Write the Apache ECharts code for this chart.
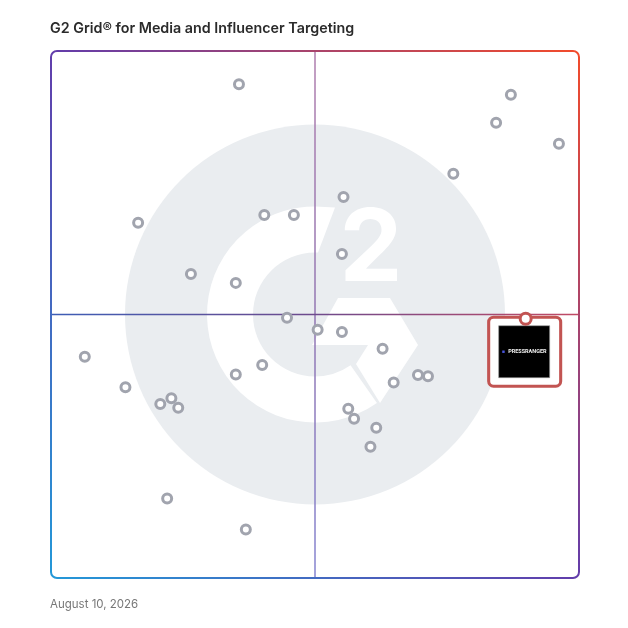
<!DOCTYPE html>
<html><head><meta charset="utf-8">
<script src="https://cdn.jsdelivr.net/npm/echarts@6/dist/echarts.min.js"></script>
<style>html,body{margin:0;padding:0;background:#fff}#c{width:628px;height:628px}</style>
</head><body><div id="c"></div>
<script>
const titleText = 'G2 Grid® for Media and Influencer Targeting';
const dateText = 'August 10, 2026';
// competitors: x = satisfaction, y = market presence (0-100)
const satisfaction = [35.6, 87.1, 84.3, 96.2, 76.2, 55.4, 40.4, 46.0, 16.5, 55.1, 26.5, 35.0, 44.7, 50.5, 55.1, 62.8, 6.4, 40.0, 35.0, 69.5, 71.4, 64.9, 14.1, 22.8, 20.7, 24.1, 56.3, 57.4, 61.6, 60.5, 22.0, 36.9];
const marketPresence = [93.7, 91.7, 86.4, 82.4, 76.7, 72.3, 68.9, 68.9, 67.4, 61.5, 57.7, 56.0, 49.4, 47.1, 46.7, 43.5, 42.0, 40.4, 38.6, 38.5, 38.3, 37.1, 36.2, 34.1, 33.0, 32.3, 32.1, 30.2, 28.5, 24.9, 15.1, 9.2];
const highlightName = 'PRESSRANGER';
const highlightSatisfaction = [89.9];
const highlightPresence = [49.2];

const competitorData = satisfaction.map((x, i) => [x, marketPresence[i]]);
const highlightData = highlightSatisfaction.map((x, i) => [x, highlightPresence[i]]);

const RED = '#c25452';
const chart = echarts.init(document.getElementById('c'), null, {renderer: 'canvas'});
chart.setOption({
  animation: false,
  backgroundColor: '#fff',
  title: [
    {text: titleText, left: 45, top: 17, textStyle: {fontFamily: 'Inter', fontSize: 14.3, fontWeight: 600, color: '#2b2b2b'}},
    {text: dateText, left: 45, top: 594, textStyle: {fontFamily: 'Inter', fontSize: 11.5, fontWeight: 400, color: '#777'}}
  ],
  grid: {left: 51, top: 51, width: 528, height: 527},
  xAxis: {type: 'value', min: 0, max: 100, show: false},
  yAxis: {type: 'value', min: 0, max: 100, show: false},
  series: [
    {type: 'scatter', z: 3, data: competitorData, symbol: 'circle', symbolSize: 9,
     itemStyle: {color: '#fff', borderColor: '#a1a4ae', borderWidth: 3, opacity: 1}},
    {type: 'scatter', z: 4, data: highlightData, symbol: 'path://M5,0H69A5,5 0 0 1 74,5V66A5,5 0 0 1 69,71H5A5,5 0 0 1 0,66V5A5,5 0 0 1 5,0Z',
     symbolSize: [72, 69], symbolOffset: [-1, 33],
     itemStyle: {color: '#fff', borderColor: RED, borderWidth: 3, opacity: 1}},
    {type: 'scatter', z: 5, data: highlightData, symbol: 'rect', symbolSize: [51, 52], symbolOffset: [-1.5, 33],
     itemStyle: {color: '#000', borderColor: '#9a9a9a', borderWidth: 0.6, opacity: 1},
     label: {show: true, position: 'inside',
       formatter: '{i|■} {n|' + highlightName + '}',
       rich: {i: {color: '#4a56e0', fontSize: 5}, n: {color: '#f2f2f2', fontSize: 5.5, fontWeight: 'bold', fontFamily: 'Roboto'}}}},
    {type: 'scatter', z: 6, data: highlightData, symbol: 'circle', symbolSize: 11,
     itemStyle: {color: '#fff', borderColor: RED, borderWidth: 3, opacity: 1}}
  ]
});

const tl = chart.convertToPixel({gridIndex: 0}, [0, 100]);
const br = chart.convertToPixel({gridIndex: 0}, [100, 0]);
const mid = chart.convertToPixel({gridIndex: 0}, [50, 50]);
const cx = mid[0], cy = mid[1];
const diag = {type: 'linear', x: tl[0], y: br[1], x2: br[0], y2: tl[1], global: true,
  colorStops: [{offset: 0, color: '#2398d8'}, {offset: 0.5, color: '#623dab'}, {offset: 1, color: '#f24b2b'}]};
const vGrad = {type: 'linear', x: 0, y: 0, x2: 0, y2: 1,
  colorStops: [{offset: 0, color: '#b07eae'}, {offset: 0.5, color: '#9276b2'}, {offset: 1, color: '#8584d0'}]};
const hGrad = {type: 'linear', x: 0, y: 0, x2: 1, y2: 0,
  colorStops: [{offset: 0, color: '#3d5eb6'}, {offset: 0.5, color: '#6e4a8c'}, {offset: 1, color: '#c24a64'}]};
const LOGO = '#eaedf0';
chart.setOption({
  graphic: [
    {type: 'circle', z: 0, shape: {cx: cx, cy: cy, r: 190}, style: {fill: LOGO}, silent: true},
    {type: 'sector', z: 0, shape: {cx: cx, cy: cy, r0: 62, r: 108, startAngle: 55 * Math.PI / 180, endAngle: 270 * Math.PI / 180, clockwise: true}, style: {fill: '#fff'}, silent: true},
    {type: 'polygon', z: 0, shape: {points: [[cx, cy - 108], [cx + 20, cy - 107], [cx + 3, cy - 62], [cx, cy - 62]]}, style: {fill: '#fff'}, silent: true},
    {type: 'polygon', z: 0, shape: {points: [[cx + 23, cy - 16.5], [cx + 75, cy - 16.5], [cx + 103, cy + 30.5], [cx + 65, cy + 88.5], [cx + 41, cy + 49.5], [cx + 53, cy + 30.5], [cx - 3, cy + 30.5]]}, style: {fill: '#fff'}, silent: true},
    {type: 'text', z: 0, x: cx + 56, y: cy - 64, style: {text: '2', fill: '#fff', fontSize: 100, fontWeight: 'bold', fontFamily: 'Inter', align: 'center', verticalAlign: 'middle'}, silent: true},
    {type: 'line', z: 1, shape: {x1: cx, y1: tl[1], x2: cx, y2: br[1]}, style: {stroke: vGrad, lineWidth: 1.5}, silent: true},
    {type: 'line', z: 1, shape: {x1: tl[0], y1: cy, x2: br[0], y2: cy}, style: {stroke: hGrad, lineWidth: 1.5}, silent: true},
    {type: 'rect', z: 1, shape: {x: tl[0], y: tl[1], width: br[0] - tl[0], height: br[1] - tl[1], r: 6}, style: {fill: 'none', stroke: diag, lineWidth: 2}, silent: true}
  ]
});
</script></body></html>
